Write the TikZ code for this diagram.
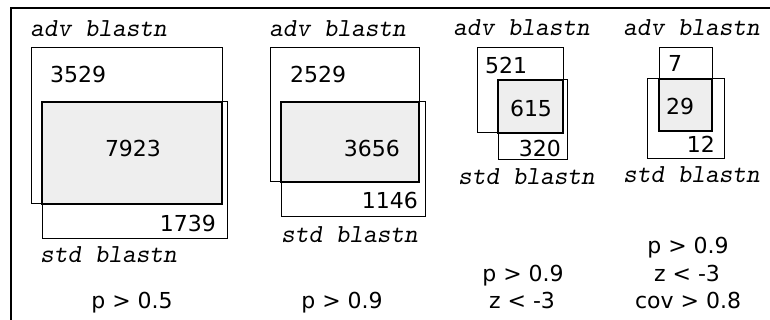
\documentclass[tikz,border=0pt]{standalone}
\usepackage{fontspec}
\setmainfont{DejaVu Sans}
\definecolor{overlapfill}{RGB}{238,238,238}
\begin{document}
\begin{tikzpicture}[x=1pt,y=-1pt,
  setbox/.style={draw=black,line width=1pt},
  overlap/.style={draw=black,fill=overlapfill,line width=2pt},
  frameline/.style={draw=black,line width=2.5pt},
  count/.style={inner sep=0pt,font=\fontsize{22}{26}\selectfont},
  prog/.style={inner sep=0pt,anchor=base west,font=\ttfamily\slshape\fontsize{26}{30}\selectfont},
  cond/.style={inner sep=0pt,anchor=base,font=\fontsize{22}{26}\selectfont}]
\useasboundingbox (0,0) rectangle (770,320);

% frame
\draw[frameline] (11,320) -- (11,8) -- (770,8);

% set 1: p > 0.5
\draw[setbox] (31,48) rectangle (222,204);
\draw[setbox] (42,102) rectangle (227,238);
\draw[overlap] (42,102) rectangle (222,204);
\node[prog] (a1) at (30,37) {adv blastn};
\node[prog] (s1) at (40,262) {std blastn};
\node[count,anchor=base west] (n1a) at (50,83) {3529};
\node[count,anchor=base] (n1b) at (133,157) {7923};
\node[count,anchor=base east] (n1s) at (216,231) {1739};
\node[cond] (c1) at (132,308) {p > 0.5};

% set 2: p > 0.9
\draw[setbox] (270,48) rectangle (419,182);
\draw[setbox] (281,102) rectangle (425,217);
\draw[overlap] (281,102) rectangle (419,182);
\node[prog] (a2) at (269,37) {adv blastn};
\node[prog] (s2) at (281,242) {std blastn};
\node[count,anchor=base west] (n2a) at (290,83) {2529};
\node[count,anchor=base east] (n2b) at (400,157) {3656};
\node[count,anchor=base east] (n2s) at (418,209) {1146};
\node[cond] (c2) at (342,308) {p > 0.9};

% set 3: p > 0.9, z < -3
\draw[setbox] (477,48) rectangle (563,133);
\draw[setbox] (498,80) rectangle (567,160);
\draw[overlap] (498,80) rectangle (563,133);
\node[prog] (a3) at (453,36) {adv blastn};
\node[prog] (s3) at (458,185) {std blastn};
\node[count,anchor=base west] (n3a) at (485,74) {521};
\node[count,anchor=base] (n3b) at (531,117) {615};
\node[count,anchor=base east] (n3s) at (561,157) {320};
\node[cond] (c3a) at (523,281) {p > 0.9};
\node[cond] (c3b) at (522,308) {z < -3};

% set 4: p > 0.9, z < -3, cov > 0.8
\draw[setbox] (659,48) rectangle (712,131);
\draw[setbox] (647,79) rectangle (724,159);
\draw[overlap] (659,79) rectangle (712,131);
\node[prog] (a4) at (623,36) {adv blastn};
\node[prog] (s4) at (623,183) {std blastn};
\node[count,anchor=base west] (n4a) at (668,72) {7};
\node[count,anchor=base] (n4b) at (680,115) {29};
\node[count,anchor=base east] (n4s) at (715,153) {12};
\node[cond] (c4a) at (688,253) {p > 0.9};
\node[cond] (c4b) at (687,281) {z < -3};
\node[cond] (c4c) at (688,308) {cov > 0.8};
\end{tikzpicture}
\end{document}
